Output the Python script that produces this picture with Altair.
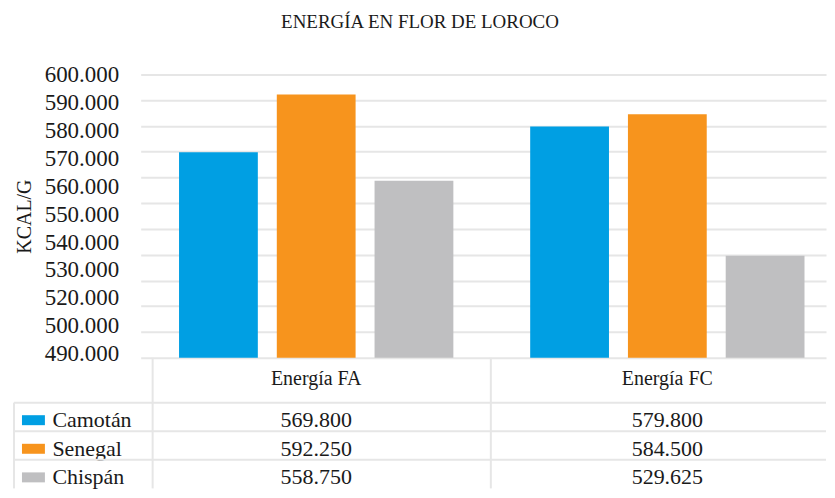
import altair as alt
import pandas as pd

categories = ["Energía FA", "Energía FC"]
series_names = ["Camotán", "Senegal", "Chispán"]
camotan = [569.800, 579.800]
senegal = [592.250, 584.500]
chispan = [558.750, 529.625]
series_colors = ["#009FE3", "#F7941D", "#BFBFC1"]
grid_values = [490, 500, 510, 520, 530, 540, 550, 560, 570, 580, 590, 600]
tick_labels = ["490.000", "500.000", "520.000", "530.000", "540.000", "550.000",
               "560.000", "570.000", "580.000", "590.000", "600.000"]
title_text = "ENERGÍA EN FLOR DE LOROCO"
y_title = "KCAL/G"

rows = []
for s, vals in zip(series_names, [camotan, senegal, chispan]):
    for c, v in zip(categories, vals):
        rows.append({"cat": c, "series": s, "value": v})
df = pd.DataFrame(rows)
lab_df = pd.DataFrame({"idx": list(range(len(tick_labels)))})
ser_df = pd.DataFrame({"series": series_names})
one = pd.DataFrame({"k": [0]})

FONT = "Liberation Serif"
TXT = "#1a1a1a"
LINE = "#E6E6E6"
W = 687
H_TOP = 284
H_TAB = 131

x_scale = alt.Scale(type="band", domain=categories, paddingInner=0.1483, paddingOuter=0.05, align=0.74)
color_scale = alt.Scale(domain=series_names, range=series_colors)

bars = alt.Chart(df).mark_bar().encode(
    x=alt.X("cat:N", scale=x_scale, sort=categories,
            axis=alt.Axis(orient="bottom", title=None, labelFont=FONT, labelFontSize=20,
                          labelColor=TXT, labelPadding=11, ticks=False, tickSize=0,
                          domain=False, labelAngle=0, grid=False)),
    xOffset=alt.XOffset("series:N", sort=series_names,
                        scale=alt.Scale(domain=series_names, paddingInner=0.194, paddingOuter=0.1266)),
    y=alt.Y("value:Q", scale=alt.Scale(domain=[490, 600], nice=False, zero=False),
            axis=alt.Axis(orient="right", values=grid_values, grid=True, gridColor=LINE,
                          gridWidth=2, labels=False, ticks=False, domain=False, title=None)),
    y2=alt.datum(490),
    color=alt.Color("series:N", scale=color_scale, legend=None, sort=series_names),
)

label_expr = "[" + ",".join("'" + t + "'" for t in tick_labels) + "][datum.value]"
ylabels = alt.Chart(lab_df).mark_point(opacity=0).encode(
    y=alt.Y("idx:Q", scale=alt.Scale(domain=[-0.14, len(tick_labels) - 1], nice=False, zero=False),
            axis=alt.Axis(orient="left", values=list(range(len(tick_labels))), labelExpr=label_expr,
                          grid=False, ticks=False, domain=False, labelFont=FONT, labelFontSize=23,
                          labelColor=TXT, labelPadding=22, labelFlush=False, labelOverlap=False,
                          title=y_title, titleFont=FONT, titleFontSize=20, titleFontWeight="normal",
                          titleColor=TXT, titlePadding=10))
)
top = alt.layer(bars, ylabels).resolve_scale(y="independent").properties(width=W, height=H_TOP)

y_tab = alt.Scale(domain=series_names, paddingInner=0, paddingOuter=0.785, align=1)
y_tab_axis = alt.Axis(orient="left", title=None, labelAlign="left", labelPadding=89, ticks=False,
                      tickSize=0, domain=False, grid=False, labelFont=FONT, labelFontSize=22,
                      labelColor=TXT, labelOffset=3.3)

values_text = alt.Chart(df).mark_text(font=FONT, fontSize=22, color=TXT, dy=3.3).encode(
    x=alt.X("cat:N", scale=x_scale, axis=None),
    y=alt.Y("series:N", scale=y_tab, sort=series_names, axis=y_tab_axis),
    text=alt.Text("value:Q", format=".3f"),
)
swatches = alt.Chart(ser_df).mark_point(filled=True, shape="M-1.15,-0.5H1.15V0.5H-1.15Z",
                                        size=400, opacity=1, strokeWidth=0).encode(
    x=alt.value(-107.5),
    y=alt.Y("series:N", scale=y_tab, sort=series_names, axis=y_tab_axis),
    yOffset=alt.value(17.6),
    color=alt.Color("series:N", scale=color_scale, legend=None),
)
hlines = alt.Chart(ser_df).mark_rule(color=LINE, strokeWidth=2).encode(
    y=alt.Y("series:N", scale=y_tab, sort=series_names, bandPosition=0, axis=y_tab_axis),
    x=alt.value(-127), x2=alt.value(W),
)
vline_left = alt.Chart(one).mark_rule(color=LINE, strokeWidth=2).encode(
    x=alt.value(-127), y=alt.value(45), y2=alt.value(H_TAB))
vline_first = alt.Chart(one).mark_rule(color=LINE, strokeWidth=2).encode(
    x=alt.value(12), y=alt.value(0), y2=alt.value(H_TAB))
vline_mid = alt.Chart(one).mark_rule(color=LINE, strokeWidth=2).encode(
    x=alt.value(351), y=alt.value(0), y2=alt.value(H_TAB))

table = alt.layer(hlines, vline_left, vline_first, vline_mid, swatches, values_text).properties(
    width=W, height=H_TAB)

chart = alt.vconcat(top, table, spacing=0, bounds="flush").properties(
    title=alt.TitleParams(title_text, font=FONT, fontSize=19, fontWeight="normal", color=TXT,
                          anchor="middle", offset=32),
    padding={"left": 5, "top": 4, "right": 0, "bottom": 0},
).configure_view(stroke=None)

chart.save("out.html", embed_options={"renderer": "svg", "actions": False})
